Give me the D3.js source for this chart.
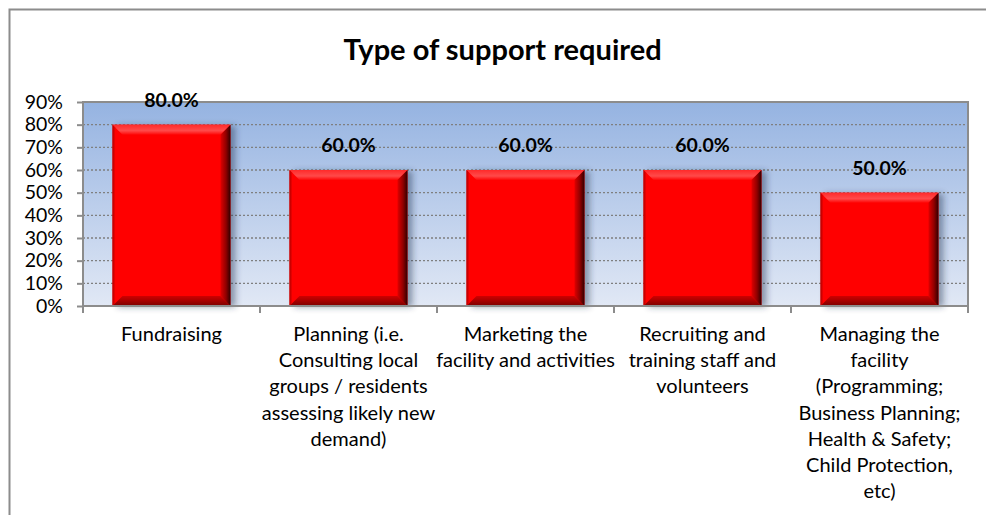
<!DOCTYPE html>
<html><head><meta charset="utf-8">
<script src="https://cdn.jsdelivr.net/npm/d3@7"></script>
<style>body{margin:0;background:#fff}svg{display:block}text{font-family:Lato,"Open Sans",sans-serif;fill:#000}</style>
</head><body><svg id="c" width="986" height="515"></svg>
<script>
const title = "Type of support required";
const categories = [
  ["Fundraising"],
  ["Planning (i.e.", "Consulting local", "groups / residents", "assessing likely new", "demand)"],
  ["Marketing the", "facility and activities"],
  ["Recruiting and", "training staff and", "volunteers"],
  ["Managing the", "facility", "(Programming;", "Business Planning;", "Health & Safety;", "Child Protection,", "etc)"]
];
const values = [0.80, 0.60, 0.60, 0.60, 0.50];
const yTicks = [0, 0.1, 0.2, 0.3, 0.4, 0.5, 0.6, 0.7, 0.8, 0.9];

const svg = d3.select("#c");
const defs = svg.append("defs");
const m = {l: 83, r: 968, t: 102, b: 306};

// gradients
const bg = defs.append("linearGradient").attr("id","bg").attr("x1",0).attr("y1",0).attr("x2",0).attr("y2",1);
bg.append("stop").attr("offset","0%").attr("stop-color","#95b3e1");
bg.append("stop").attr("offset","100%").attr("stop-color","#e1e8f5");
const gTop = defs.append("linearGradient").attr("id","gTop").attr("x1",0).attr("y1",0).attr("x2",0).attr("y2",1);
gTop.append("stop").attr("offset","0%").attr("stop-color","#ff2a2a");
gTop.append("stop").attr("offset","60%").attr("stop-color","#ff4a4a");
gTop.append("stop").attr("offset","100%").attr("stop-color","#ff0808");
const gRight = defs.append("linearGradient").attr("id","gRight").attr("x1",0).attr("y1",0).attr("x2",1).attr("y2",0);
gRight.append("stop").attr("offset","0%").attr("stop-color","#e00000");
gRight.append("stop").attr("offset","55%").attr("stop-color","#900000");
gRight.append("stop").attr("offset","100%").attr("stop-color","#300000");
const gBot = defs.append("linearGradient").attr("id","gBot").attr("x1",0).attr("y1",0).attr("x2",0).attr("y2",1);
gBot.append("stop").attr("offset","0%").attr("stop-color","#d00000");
gBot.append("stop").attr("offset","100%").attr("stop-color","#7a0000");
const gLeft = defs.append("linearGradient").attr("id","gLeft").attr("x1",0).attr("y1",0).attr("x2",1).attr("y2",0);
gLeft.append("stop").attr("offset","0%").attr("stop-color","#b00000");
gLeft.append("stop").attr("offset","100%").attr("stop-color","#ff0000");
const sh = defs.append("filter").attr("id","sh").attr("x","-20%").attr("y","-20%").attr("width","150%").attr("height","140%");
sh.append("feDropShadow").attr("dx",5).attr("dy",1).attr("stdDeviation",3).attr("flood-color","#203050").attr("flood-opacity",0.45);

// outer chart border
svg.append("rect").attr("x",9.5).attr("y",9.5).attr("width",990).attr("height",530)
  .attr("fill","#fff").attr("stroke","#8c8c8c").attr("stroke-width",2);

// title
svg.append("text").attr("x",502.5).attr("y",60).attr("text-anchor","middle")
  .attr("font-weight","bold").attr("font-size",29).text(title);

const x = d3.scaleBand().domain(d3.range(values.length)).range([m.l, m.r]).paddingInner(1/3).paddingOuter(1/6);
const xb = d3.scaleBand().domain(d3.range(values.length)).range([m.l, m.r]);
const y = d3.scaleLinear().domain([0, 0.9]).range([m.b, m.t]);

// plot area
svg.append("rect").attr("x",m.l).attr("y",m.t).attr("width",m.r-m.l).attr("height",m.b-m.t).attr("fill","url(#bg)");

// gridlines
svg.append("g").selectAll("line").data(yTicks.filter(d=>d>0 && d<0.9)).join("line")
  .attr("x1",m.l).attr("x2",m.r).attr("y1",d=>y(d)).attr("y2",d=>y(d))
  .attr("stroke","#7f7f7f").attr("stroke-width",1.3).attr("stroke-dasharray","2,2");

// bars
const bars = svg.append("g").selectAll("g").data(values).join("g");
const bw = x.bandwidth(), bv = 10;
bars.append("rect").attr("x",(d,i)=>x(i)).attr("y",d=>y(d)).attr("width",bw).attr("height",d=>y(0)-y(d))
  .attr("fill","#ff0000").attr("filter","url(#sh)");
bars.append("path").attr("d",(d,i)=>{const x0=x(i),x1=x0+bw,t=y(d);return `M${x0},${t}L${x1},${t}L${x1-bv},${t+bv}L${x0+bv},${t+bv}Z`;})
  .attr("fill","url(#gTop)");
bars.append("path").attr("d",(d,i)=>{const x0=x(i),t=y(d),b=y(0);return `M${x0},${t}L${x0+3},${t+3}L${x0+3},${b-3}L${x0},${b}Z`;})
  .attr("fill","url(#gLeft)");
bars.append("path").attr("d",(d,i)=>{const x0=x(i),x1=x0+bw,b=y(0);return `M${x0},${b}L${x1},${b}L${x1-bv},${b-bv}L${x0+bv},${b-bv}Z`;})
  .attr("fill","url(#gBot)");
bars.append("path").attr("d",(d,i)=>{const x0=x(i),x1=x0+bw,t=y(d),b=y(0);return `M${x1},${t}L${x1},${b}L${x1-bv},${b-bv}L${x1-bv},${t+bv}Z`;})
  .attr("fill","url(#gRight)");

// plot area border
svg.append("rect").attr("x",m.l).attr("y",m.t).attr("width",m.r-m.l).attr("height",m.b-m.t)
  .attr("fill","none").attr("stroke","#8c8c8c").attr("stroke-width",2);

// y axis
const ya = svg.append("g").attr("transform",`translate(${m.l},0)`)
  .call(d3.axisLeft(y).tickValues(yTicks).tickFormat(d3.format(".0%")).tickSize(6).tickPadding(14));
ya.select(".domain").remove();
ya.selectAll("line").attr("stroke","#8c8c8c").attr("stroke-width",2);
ya.selectAll("text").attr("font-size",19.5).attr("font-family","Lato").attr("fill","#000");

// x axis ticks at band boundaries
svg.append("g").selectAll("line").data(d3.range(values.length+1)).join("line")
  .attr("x1",i=>i<values.length?xb(i):m.r).attr("x2",i=>i<values.length?xb(i):m.r)
  .attr("y1",m.b).attr("y2",m.b+7).attr("stroke","#8c8c8c").attr("stroke-width",2);

// category labels
const cl = svg.append("g").selectAll("text").data(categories).join("text")
  .attr("text-anchor","middle").attr("font-size",20)
  .attr("transform",(d,i)=>`translate(${xb(i)+xb.bandwidth()/2},341)`);
cl.selectAll("tspan").data(d=>d).join("tspan").attr("x",0).attr("y",(d,j)=>j*26.2).text(d=>d);

// value labels
svg.append("g").selectAll("text").data(values).join("text")
  .attr("x",(d,i)=>x(i)+bw/2).attr("y",d=>y(d)-18).attr("text-anchor","middle")
  .attr("font-weight","bold").attr("font-size",19.5).text(d=>d3.format(".1%")(d));
</script></body></html>
